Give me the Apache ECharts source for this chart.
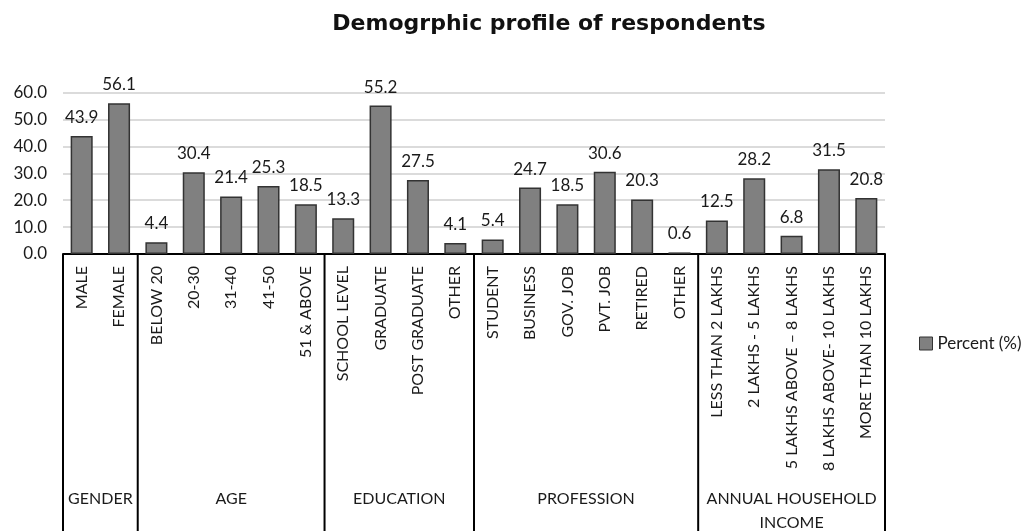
<!DOCTYPE html>
<html><head><meta charset="utf-8">
<script src="https://cdn.jsdelivr.net/npm/echarts@6/dist/echarts.min.js"></script>
<style>html,body{margin:0;padding:0;background:#fff}#c{width:1021px;height:531px}</style>
</head><body><div id="c"></div>
<script>
const categories = ['MALE','FEMALE','BELOW 20','20-30','31-40','41-50','51 & ABOVE','SCHOOL LEVEL','GRADUATE','POST GRADUATE','OTHER','STUDENT','BUSINESS','GOV. JOB','PVT. JOB','RETIRED','OTHER','LESS THAN 2 LAKHS','2 LAKHS - 5 LAKHS','5 LAKHS ABOVE – 8 LAKHS','8 LAKHS ABOVE- 10 LAKHS','MORE THAN 10 LAKHS'];
const percent = [43.9,56.1,4.4,30.4,21.4,25.3,18.5,13.3,55.2,27.5,4.1,5.4,24.7,18.5,30.6,20.3,0.6,12.5,28.2,6.8,31.5,20.8];
const groupNames = ['GENDER','AGE','EDUCATION','PROFESSION','ANNUAL HOUSEHOLD\nINCOME'];
const groupSizes = [2,5,4,6,5];
const yTicks = [0,10,20,30,40,50,60];

const FONT = 'Lato, "Open Sans", sans-serif';
const TXT = '#1a1a1a';
const chart = echarts.init(document.getElementById('c'));
const option = {
  animation: false,
  title: {
    text: 'Demogrphic profile of respondents',
    left: 544, top: 8, textAlign: 'center',
    textStyle: {fontFamily: '"DejaVu Sans", sans-serif', fontWeight: 'bold', fontSize: 22, color: '#111'}
  },
  legend: {
    data: ['Percent (%)'], left: 914, top: 330, icon: 'rect',
    itemWidth: 13, itemHeight: 13,
    itemStyle: {borderColor: '#333', borderWidth: 1},
    textStyle: {fontFamily: FONT, fontSize: 17, color: TXT}
  },
  grid: {left: 63, right: 136, top: 92.7, bottom: 277, containLabel: false},
  xAxis: {
    type: 'category', data: categories,
    axisLine: {lineStyle: {color: '#000', width: 2}},
    axisTick: {show: false},
    axisLabel: {rotate: 90, interval: 0, margin: 12, fontFamily: FONT, fontSize: 16, color: TXT}
  },
  yAxis: {
    type: 'value', min: yTicks[0], max: yTicks[yTicks.length-1], interval: 10,
    axisLine: {show: false}, axisTick: {show: false},
    axisLabel: {margin: 16, fontFamily: FONT, fontSize: 17, color: TXT, formatter: v => v.toFixed(1)},
    splitLine: {lineStyle: {color: '#cfcfcf', width: 1.5}}
  },
  series: [{
    name: 'Percent (%)', type: 'bar', data: percent, barCategoryGap: '41%',
    itemStyle: {color: '#808080', borderColor: '#333', borderWidth: 1.5},
    label: {show: true, position: 'top', distance: 10, fontFamily: FONT, fontSize: 17, color: TXT, formatter: p => p.value.toFixed(1)}
  }]
};
chart.setOption(option);

// group boxes and labels, positioned through the category axis scale
const c0 = chart.convertToPixel({xAxisIndex: 0}, 0);
const c1 = chart.convertToPixel({xAxisIndex: 0}, 1);
const band = c1 - c0;
const axisY = chart.convertToPixel({yAxisIndex: 0}, 0);
const H = chart.getHeight();
const elements = [];
let start = 0;
const bounds = [];
groupSizes.forEach(n => { bounds.push(start); start += n; });
bounds.push(start);
bounds.forEach(i => {
  const x = chart.convertToPixel({xAxisIndex: 0}, Math.min(i, categories.length-1)) + (i < categories.length ? -band/2 : band/2);
  elements.push({type: 'line', shape: {x1: x, y1: axisY, x2: x, y2: H}, style: {stroke: '#000', lineWidth: 2}, silent: true});
});
groupNames.forEach((g, k) => {
  const a = bounds[k], b = bounds[k+1];
  const xa = chart.convertToPixel({xAxisIndex: 0}, a) - band/2;
  const xb = chart.convertToPixel({xAxisIndex: 0}, b-1) + band/2;
  elements.push({type: 'text', style: {text: g, x: (xa+xb)/2, y: axisY + 233, align: 'center', verticalAlign: 'top', lineHeight: 24, font: '16px ' + FONT, fill: TXT}, silent: true});
});
chart.setOption({graphic: elements});
</script>
</body></html>
